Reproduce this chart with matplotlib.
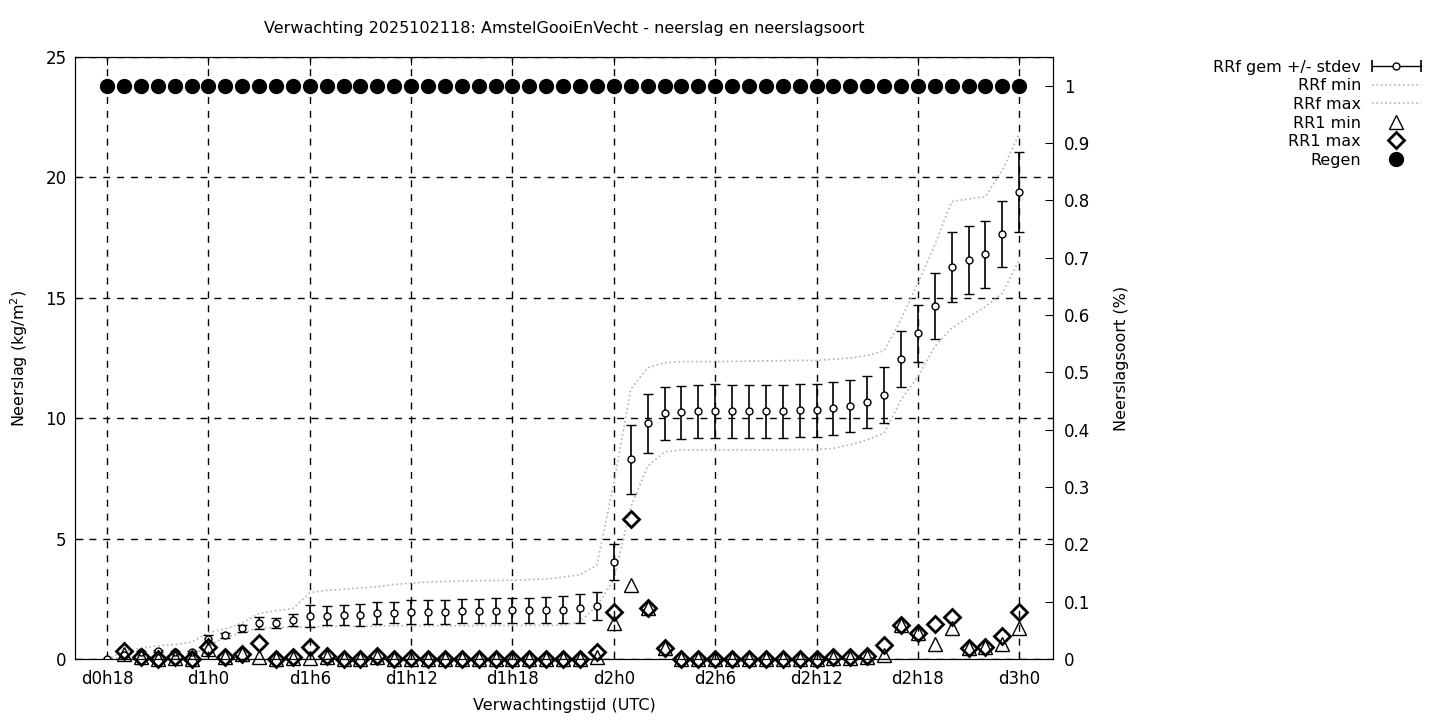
import matplotlib
matplotlib.use('Agg')
import matplotlib.pyplot as plt
import numpy as np
from matplotlib.lines import Line2D
from matplotlib.legend_handler import HandlerBase

# forecast hours d0h18 .. d3h0
hours = list(range(18, 73))

rrf_mean = [0.0, 0.15, 0.28, 0.33, 0.28, 0.3, 0.85, 0.98, 1.28, 1.49,
            1.5, 1.62, 1.78, 1.8, 1.82, 1.83, 1.9, 1.93, 1.95, 1.97,
            1.97, 1.98, 2.0, 2.0, 2.02, 2.03, 2.04, 2.05, 2.1, 2.2,
            4.02, 8.29, 9.79, 10.2, 10.24, 10.28, 10.28, 10.28, 10.28, 10.28,
            10.28, 10.32, 10.34, 10.42, 10.5, 10.66, 10.95, 12.45, 13.53, 14.65,
            16.27, 16.57, 16.8, 17.64, 19.38]
rrf_std = [0.0, 0.05, 0.05, 0.05, 0.05, 0.05, 0.15, 0.1, 0.15, 0.25,
           0.2, 0.25, 0.47, 0.4, 0.42, 0.45, 0.45, 0.45, 0.5, 0.5,
           0.5, 0.5, 0.5, 0.52, 0.52, 0.52, 0.53, 0.55, 0.6, 0.6,
           0.75, 1.43, 1.23, 1.1, 1.1, 1.1, 1.12, 1.1, 1.1, 1.1,
           1.1, 1.08, 1.1, 1.1, 1.09, 1.08, 1.16, 1.16, 1.18, 1.37,
           1.45, 1.43, 1.4, 1.37, 1.66]
rrf_min = [0.0, 0.05, 0.08, 0.1, 0.1, 0.15, 0.55, 0.9, 1.1, 1.28,
           1.3, 1.32, 1.34, 1.35, 1.36, 1.36, 1.37, 1.37, 1.38, 1.38,
           1.38, 1.38, 1.39, 1.39, 1.39, 1.4, 1.4, 1.4, 1.55, 2.2,
           3.3, 6.3, 8.0, 8.6, 8.68, 8.68, 8.68, 8.68, 8.68, 8.68,
           8.68, 8.7, 8.7, 8.75, 8.9, 9.1, 9.38, 10.76, 11.72, 12.97,
           13.73, 14.2, 14.63, 15.19, 16.57]
rrf_max = [0.0, 0.3, 0.45, 0.55, 0.6, 0.7, 1.1, 1.25, 1.5, 1.9,
           2.0, 2.1, 2.75, 2.85, 2.9, 2.95, 3.0, 3.1, 3.15, 3.2,
           3.22, 3.24, 3.25, 3.26, 3.27, 3.3, 3.32, 3.4, 3.5, 3.9,
           7.3, 11.2, 12.1, 12.3, 12.35, 12.35, 12.35, 12.36, 12.37, 12.38,
           12.39, 12.4, 12.4, 12.45, 12.5, 12.6, 12.8, 14.1, 15.6, 17.2,
           19.0, 19.1, 19.2, 20.3, 21.8]
rr1_min = [np.nan, 0.2, 0.1, 0.0, 0.05, 0.0, 0.4, 0.1, 0.2, 0.08,
           0.0, 0.05, 0.05, 0.08, 0.0, 0.0, 0.1, 0.0, 0.0, 0.0,
           0.0, 0.0, 0.0, 0.0, 0.0, 0.0, 0.0, 0.0, 0.0, 0.1,
           1.48, 3.07, 2.1, 0.45, 0.0, 0.0, 0.0, 0.0, 0.0, 0.0,
           0.0, 0.0, 0.0, 0.05, 0.05, 0.1, 0.17, 1.41, 1.06, 0.62,
           1.27, 0.44, 0.48, 0.61, 1.27]
rr1_max = [np.nan, 0.35, 0.1, 0.0, 0.1, 0.0, 0.48, 0.1, 0.21, 0.65,
           0.0, 0.1, 0.48, 0.12, 0.0, 0.0, 0.13, 0.0, 0.05, 0.0,
           0.0, 0.0, 0.0, 0.0, 0.0, 0.0, 0.0, 0.0, 0.0, 0.27,
           1.94, 5.8, 2.13, 0.47, 0.0, 0.0, 0.0, 0.0, 0.0, 0.0,
           0.0, 0.0, 0.0, 0.1, 0.1, 0.14, 0.58, 1.41, 1.09, 1.45,
           1.73, 0.44, 0.48, 0.97, 1.96]
regen = [1.0] * 55

tick_hours = list(range(18, 73, 6))
tick_labels = [f'd{h // 24}h{h % 24}' for h in tick_hours]


class HandlerErrorbarH(HandlerBase):
    """gnuplot-like errorbar sample: |---o---|"""

    def create_artists(self, legend, orig_handle, xdescent, ydescent,
                       width, height, fontsize, trans):
        y = height / 2 - ydescent
        x0, x1 = -xdescent, width - xdescent
        line = Line2D([x0, x1], [y, y], color='black', lw=1, transform=trans)
        caps = Line2D([x0, x1], [y, y], ls='none', marker='|', ms=8, mew=1.2,
                      color='black', transform=trans)
        dot = Line2D([(x0 + x1) / 2], [y], ls='none', marker='o', ms=5,
                     mfc='white', mec='black', mew=1, transform=trans)
        return [line, caps, dot]


plt.rcParams['font.family'] = 'DejaVu Sans'
plt.rcParams['font.size'] = 11.5

fig = plt.figure(figsize=(14.4, 7.2), dpi=100)
ax = fig.add_axes([75 / 1440, 61 / 720, 978 / 1440, 602 / 720])

grey = '#b4b4b4'
ax.plot(hours, rrf_min, ls=':', color=grey, lw=1.2, zorder=2)
ax.plot(hours, rrf_max, ls=':', color=grey, lw=1.2, zorder=2)
ax.errorbar(hours, rrf_mean, yerr=rrf_std, fmt='o', color='black', ms=5,
            mfc='white', mec='black', mew=1, elinewidth=1.2, capsize=3.5,
            capthick=1.2, zorder=4)
ax.plot(hours, rr1_min, ls='none', marker='^', ms=10, mfc='none', mec='black',
        mew=1, clip_on=False, zorder=5)
ax.plot(hours, rr1_max, ls='none', marker='D', ms=8, mfc='none', mec='black',
        mew=2, clip_on=False, zorder=5)

ax.set_xlim(16.1, 74)
ax.set_ylim(0, 25)
ax.set_xticks(tick_hours)
ax.set_xticklabels(tick_labels)
ax.set_yticks([0, 5, 10, 15, 20, 25])
ax.tick_params(direction='in', length=6, top=True, pad=8, labelsize=12)
ax.tick_params(axis='y', pad=6)
ax.grid(True, color='black', ls=(0, (5, 5)), lw=1)
ax.set_xlabel('Verwachtingstijd (UTC)', labelpad=7)
ax.set_ylabel('Neerslag (kg/m$^2$)', labelpad=11)
ax.set_title('Verwachting 2025102118: AmstelGooiEnVecht - neerslag en neerslagsoort',
             fontsize=11.5, pad=17)

ax2 = ax.twinx()
ax2.plot(hours, regen, ls='none', marker='o', ms=10, color='black',
         clip_on=False, zorder=5)
ax2.set_ylim(0, 1.05)
ax2.set_yticks(np.arange(0, 1.01, 0.1))
ax2.set_yticklabels([f'{v:g}' for v in np.round(np.arange(0, 1.01, 0.1), 1)])
ax2.tick_params(direction='in', length=6, pad=8, labelsize=12)
ax2.set_ylabel('Neerslagsoort (%)', labelpad=17)
ax.tick_params(axis='y', right=False)

# legend, gnuplot style (text first, sample right)
err_handle = Line2D([], [], color='black')
handles = [err_handle,
           Line2D([], [], ls=':', color=grey, lw=1.2),
           Line2D([], [], ls=':', color=grey, lw=1.2),
           Line2D([], [], ls='none', marker='^', ms=10, mfc='none', mec='black', mew=1),
           Line2D([], [], ls='none', marker='D', ms=8, mfc='none', mec='black', mew=2),
           Line2D([], [], ls='none', marker='o', ms=10, color='black')]
labels = ['RRf gem +/- stdev', 'RRf min', 'RRf max', 'RR1 min', 'RR1 max', 'Regen']
fig.legend(handles, labels, loc='upper right', bbox_to_anchor=(1429 / 1440, 1 - 52 / 720),
           markerfirst=False, frameon=False, handlelength=3.1, labelspacing=0.22,
           borderpad=0, handletextpad=0.65,
           handler_map={err_handle: HandlerErrorbarH()})

fig.savefig('out.png', dpi=100)
